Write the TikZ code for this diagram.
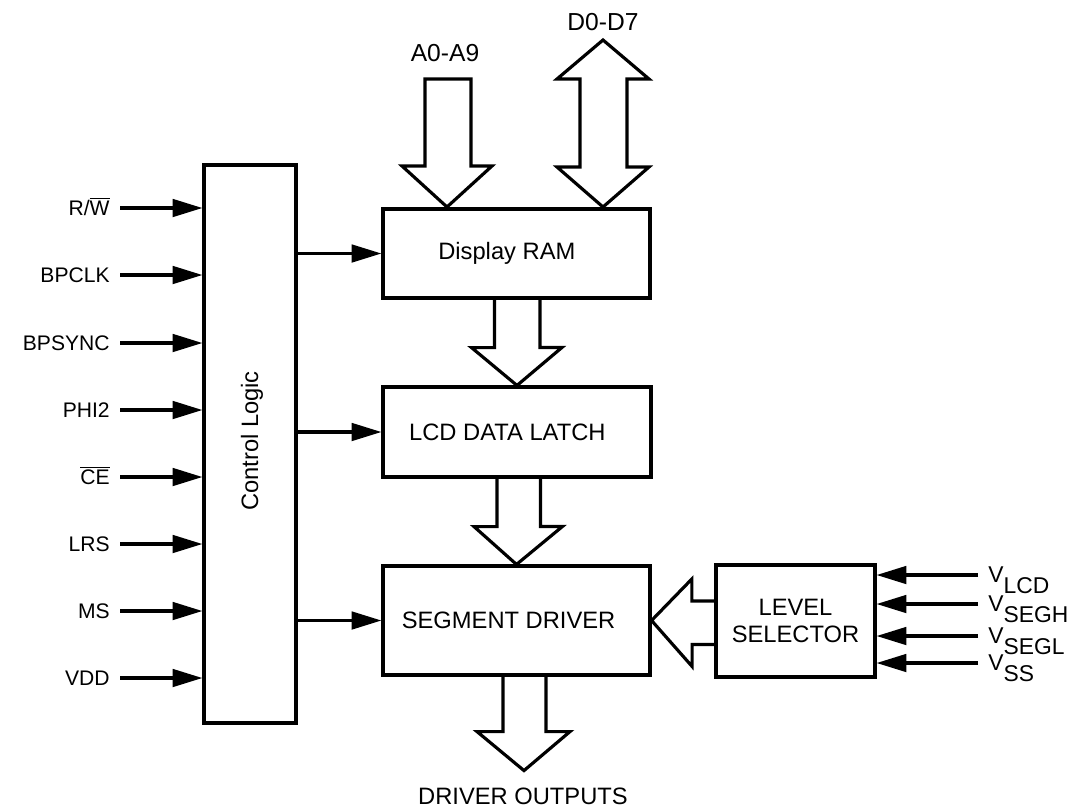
\documentclass[tikz,border=0pt]{standalone}
\usepackage{fontspec}
\setmainfont{Liberation Sans}
\usetikzlibrary{arrows.meta}

\newcommand{\ovl}[1]{$\overline{\hbox{#1}}$}

\begin{document}
\begin{tikzpicture}[x=0.02cm, y=-0.02cm, line width=1.8pt,
  >={Triangle[length=17pt, width=10pt]},
  blk/.style={draw, rectangle, inner sep=0pt, align=center,
    font=\fontsize{13.5}{15.4}\selectfont},
  big/.style={font=\fontsize{13.5}{15.4}\selectfont},
  sig/.style={inner sep=5pt, text height=8.6pt, text depth=0pt,
    font=\fontsize{12}{14}\selectfont},
  bus/.style={font=\fontsize{14}{16}\selectfont},
  sup/.style={sig, anchor=west, font=\fontsize{13}{15}\selectfont}]
  \useasboundingbox (0,0) rectangle (1075,809);

  % blocks
  \node[blk, minimum width=1.84cm, minimum height=11.16cm] (ctrl) at (250,444) {};
  \node[big, rotate=90] (ctrllbl) at (252,441) {Control Logic};
  \node[blk, minimum width=5.34cm, minimum height=1.78cm] (ram) at (516.5,253.5) {Display RAM\hspace*{11pt}};
  \node[blk, minimum width=5.36cm, minimum height=1.8cm] (latch) at (517,432) {LCD DATA LATCH\hspace*{11pt}};
  \node[blk, minimum width=5.34cm, minimum height=2.18cm] (seg) at (516.5,620.5) {SEGMENT DRIVER\hspace*{9pt}};
  \node[blk, minimum width=3.18cm, minimum height=2.24cm] (lvl) at (795.5,621) {LEVEL\\SELECTOR};

  % inputs of the control logic
  \node[sig, anchor=east] (rw) at (120,208) {R/\ovl{W}};
  \draw[->] (rw.east) -- (rw -| ctrl.west);
  \node[sig, anchor=east] (bpclk) at (120,275) {BPCLK};
  \draw[->] (bpclk.east) -- (bpclk -| ctrl.west);
  \node[sig, anchor=east] (bpsync) at (120,343) {BPSYNC};
  \draw[->] (bpsync.east) -- (bpsync -| ctrl.west);
  \node[sig, anchor=east] (phi) at (120,410) {PHI2};
  \draw[->] (phi.east) -- (phi -| ctrl.west);
  \node[sig, anchor=east] (ce) at (120,477) {\ovl{CE}};
  \draw[->] (ce.east) -- (ce -| ctrl.west);
  \node[sig, anchor=east] (lrs) at (120,544) {LRS};
  \draw[->] (lrs.east) -- (lrs -| ctrl.west);
  \node[sig, anchor=east] (ms) at (120,611) {MS};
  \draw[->] (ms.east) -- (ms -| ctrl.west);
  \node[sig, anchor=east] (vdd) at (120,678) {VDD};
  \draw[->] (vdd.east) -- (vdd -| ctrl.west);

  % control lines
  \draw[->] (ctrl.east |- ram.west) -- (ram.west);
  \draw[->] (ctrl.east |- latch.west) -- (latch.west);
  \draw[->] (ctrl.east |- seg.west) -- (seg.west);

  % busses
  \node[bus] (abus) at (445,53) {A0-A9};
  \draw (425,79) -- (425,166) -- (402,166) -- (447,207) -- (492,166) -- (471,166) -- (471,79) -- cycle;
  \node[bus] (dbus) at (603,22) {D0-D7};
  \draw (603,40) -- (649,79) -- (627,79) -- (627,167) -- (649,167) -- (603,207)
    -- (557,167) -- (580,167) -- (580,79) -- (557,79) -- cycle;

  \draw (ram.south) ++(-22,0) -- ++(0,48) -- ++(-23,0) -- (latch.north)
    -- ++(45,-38) -- ++(-22,0) -- ++(0,-48);
  \draw (latch.south) ++(-20,0) -- ++(0,48) -- ++(-23,0) -- (seg.north)
    -- ++(46,-38) -- ++(-22,0) -- ++(0,-48);
  \draw (seg.south) ++(-13.5,0) -- ++(0,55) -- ++(-26,0) -- ++(47,39)
    -- ++(46,-39) -- ++(-24,0) -- ++(0,-55);
  \node[big] (outlbl) at (523,796) {DRIVER OUTPUTS};

  \draw (lvl.west) ++(0,-20) -- ++(-22.6,0) -- ++(0,-22) -- (seg.east)
    -- ++(40.6,46) -- ++(0,-22) -- ++(22.6,0);

  % supply levels
  \node[sup] (vlcd) at (978,575) {V\raisebox{-6pt}{LCD}};
  \draw[->] (vlcd.west) -- (vlcd -| lvl.east);
  \node[sup] (vsegh) at (978,604) {V\raisebox{-6pt}{SEGH}};
  \draw[->] (vsegh.west) -- (vsegh -| lvl.east);
  \node[sup] (vsegl) at (978,636) {V\raisebox{-6pt}{SEGL}};
  \draw[->] (vsegl.west) -- (vsegl -| lvl.east);
  \node[sup] (vss) at (978,663) {V\raisebox{-6pt}{SS}};
  \draw[->] (vss.west) -- (vss -| lvl.east);
\end{tikzpicture}
\end{document}
